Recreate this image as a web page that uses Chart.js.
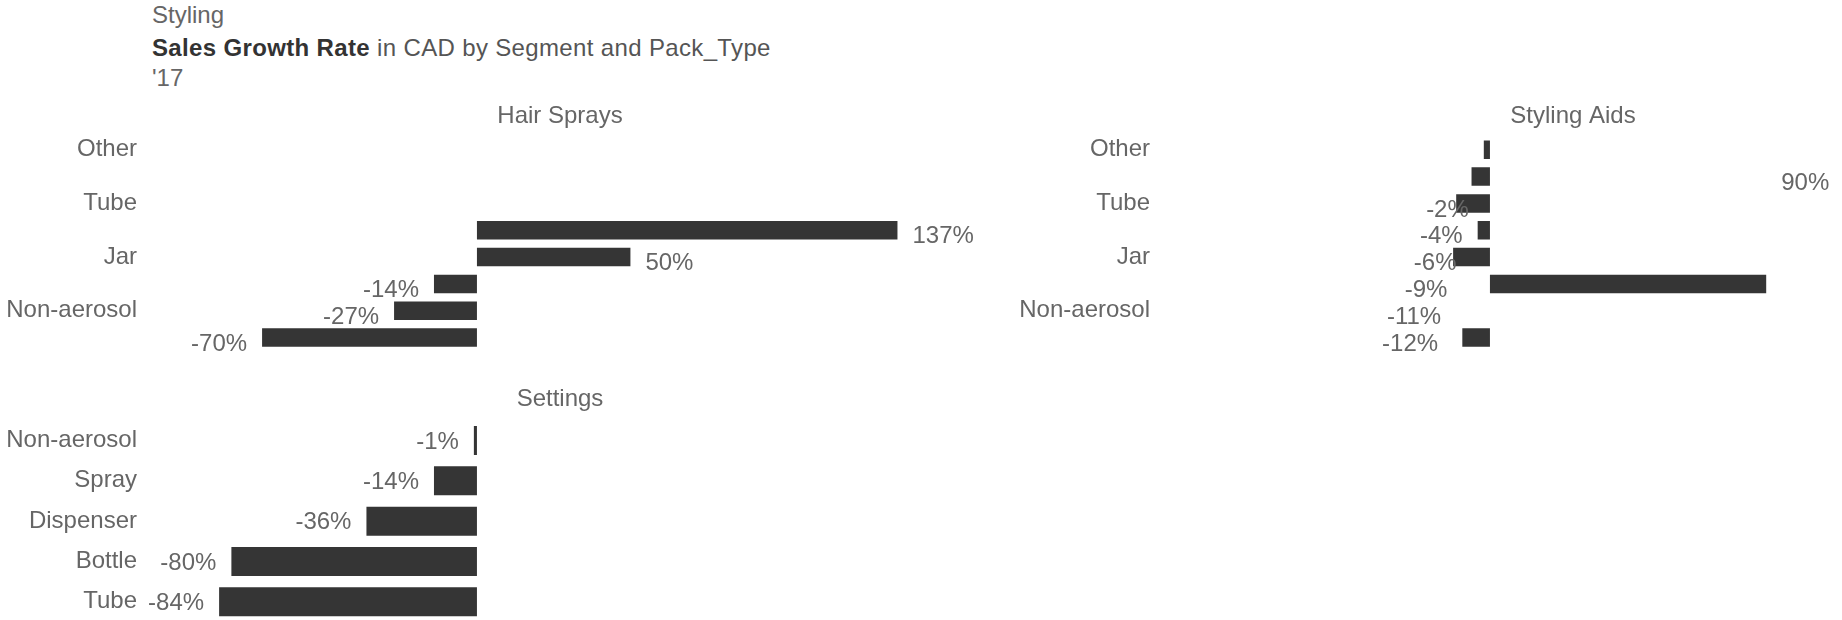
<!DOCTYPE html>
<html>
<head>
<meta charset="utf-8">
<script src="https://cdn.jsdelivr.net/npm/chart.js@4.4.1/dist/chart.umd.min.js"></script>
<style>
  html, body { margin: 0; padding: 0; background: #ffffff; overflow: hidden; }
  body { width: 1842px; height: 620px; position: relative; font-family: "Liberation Sans", Arial, sans-serif; }
  .hdr { position: absolute; left: 152px; font-size: 24px; line-height: 28px; color: #666666; white-space: nowrap; }
  .hdr b { color: #333333; font-weight: bold; }
  .hdr.wide { letter-spacing: 0.35px; }
  canvas { position: absolute; }
</style>
</head>
<body>
<div class="hdr" style="top:1px;">Styling</div>
<div class="hdr wide" style="top:34px;"><b>Sales Growth Rate</b> <span style="color:#555555">in CAD by Segment and Pack_Type</span></div>
<div class="hdr" style="top:64px;">'17</div>

<canvas id="hairSprays" width="1120" height="263" style="left:0px; top:100px;"></canvas>
<canvas id="stylingAids" width="1120" height="263" style="left:1013px; top:100px;"></canvas>
<canvas id="settings" width="1120" height="243" style="left:0px; top:380px;"></canvas>

<script>
// Pack-type rows for each segment (blank rows carry no axis label)
const hairSpraysPackTypes = ['Other', '', 'Tube', '', 'Jar', '', 'Non-aerosol', ''];
const stylingAidsPackTypes = ['Other', '', 'Tube', '', 'Jar', '', 'Non-aerosol', ''];
const settingsPackTypes = ['Non-aerosol', 'Spray', 'Dispenser', 'Bottle', 'Tube'];

// Sales growth rate, % vs prior year
const hairSpraysGrowth = [null, null, null, 137, 50, -14, -27, -70];
const stylingAidsGrowth = [-2, -6, -11, -4, -12, 90, null, -9];
const settingsGrowth = [-1, -14, -36, -80, -84];

// Shared value axis range (%)
const growthAxisMin = -105;
const growthAxisMax = 209.5;

const FONT_FAMILY = '"Liberation Sans", Arial, sans-serif';
const FONT_SIZE = 24;
const TEXT_GREY = '#666666';
const BAR_COLOR = '#353535';

// Value labels: listed in descending order, one per row from a starting row
const stackedValueLabels = {
  id: 'stackedValueLabels',
  afterDatasetsDraw(chart, args, opts) {
    const { ctx, scales: { x, y } } = chart;
    const values = chart.data.datasets[0].data
      .filter(v => v !== null)
      .slice()
      .sort((a, b) => b - a);
    ctx.save();
    ctx.font = FONT_SIZE + 'px ' + FONT_FAMILY;
    ctx.fillStyle = TEXT_GREY;
    ctx.textBaseline = 'middle';
    values.forEach((v, i) => {
      const py = y.getPixelForValue(opts.startRow + i) + opts.offsetY;
      const px = x.getPixelForValue(v);
      const text = v + '%';
      if (v < 0) {
        ctx.textAlign = 'right';
        ctx.fillText(text, px - opts.gap, py);
      } else {
        ctx.textAlign = 'left';
        ctx.fillText(text, px + opts.gap, py);
      }
    });
    ctx.restore();
  }
};

function buildPanel(canvasId, title, packTypes, growth, cfg) {
  const axisWidth = 154.65;
  return new Chart(document.getElementById(canvasId), {
    type: 'bar',
    data: {
      labels: packTypes,
      datasets: [{
        data: growth,
        backgroundColor: BAR_COLOR,
        borderWidth: 0,
        categoryPercentage: 1,
        barPercentage: cfg.barPercentage
      }]
    },
    options: {
      indexAxis: 'y',
      responsive: false,
      animation: false,
      devicePixelRatio: 1,
      layout: { padding: { left: 0, right: 0, top: 0, bottom: cfg.bottomPad } },
      scales: {
        x: {
          display: false,
          min: growthAxisMin,
          max: growthAxisMax
        },
        y: {
          grid: { display: false, drawTicks: false },
          border: { display: false },
          ticks: {
            autoSkip: false,
            padding: axisWidth - 137,
            color: TEXT_GREY,
            font: { family: FONT_FAMILY, size: FONT_SIZE }
          },
          afterFit(scale) {
            scale.width = axisWidth;
            scale.paddingTop = 0;
            scale.paddingBottom = 0;
          }
        }
      },
      plugins: {
        legend: { display: false },
        tooltip: { enabled: false },
        title: {
          display: true,
          text: title,
          color: TEXT_GREY,
          font: { family: FONT_FAMILY, size: FONT_SIZE, weight: 'normal', lineHeight: 1.2 },
          padding: { top: cfg.titleTop, bottom: cfg.titleBottom }
        },
        stackedValueLabels: {
          startRow: cfg.labelStartRow,
          offsetY: cfg.labelOffsetY,
          gap: 15
        }
      }
    },
    plugins: [stackedValueLabels]
  });
}

buildPanel('hairSprays', 'Hair Sprays', hairSpraysPackTypes, hairSpraysGrowth,
  { barPercentage: 0.69, bottomPad: 12, titleTop: 2.3, titleBottom: 5.2, labelStartRow: 3, labelOffsetY: 6.5 });
buildPanel('stylingAids', 'Styling Aids', stylingAidsPackTypes, stylingAidsGrowth,
  { barPercentage: 0.69, bottomPad: 12, titleTop: 2.3, titleBottom: 5.2, labelStartRow: 1, labelOffsetY: 6.5 });
buildPanel('settings', 'Settings', settingsPackTypes, settingsGrowth,
  { barPercentage: 0.72, bottomPad: 1, titleTop: 5.0, titleBottom: 6.5, labelStartRow: 0, labelOffsetY: 1.5 });
</script>
</body>
</html>
